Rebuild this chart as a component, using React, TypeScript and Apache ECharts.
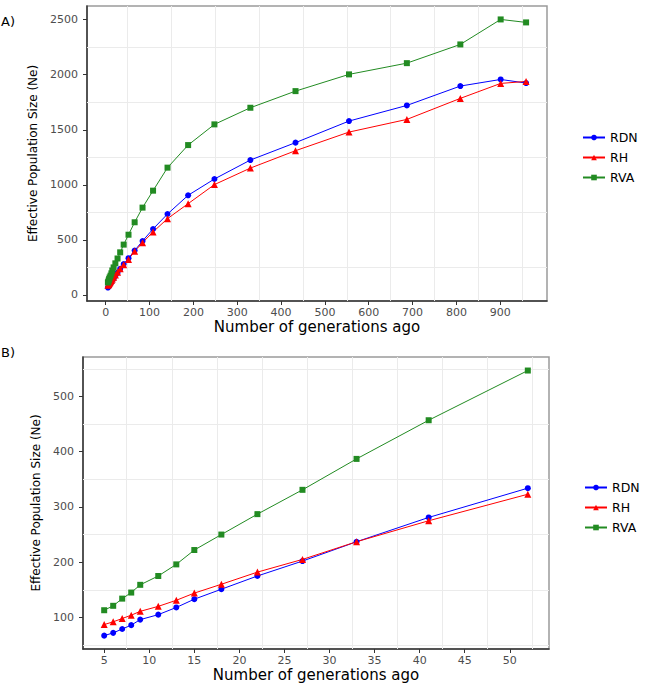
import React, { useEffect, useRef } from "react";
import * as echarts from "echarts";

// Generations (number of generations ago)
const generations = [5, 6, 7, 8, 9, 11, 13, 15, 18, 22, 27, 33, 41, 52, 66, 84, 108, 141, 188, 248, 330, 433, 555, 687, 809, 901, 959];
// Effective population size (Ne) per population
const rdnNe = [67, 72, 79, 86, 96, 105, 118, 133, 151, 175, 202, 237, 281, 334, 403, 490, 599, 735, 905, 1053, 1225, 1383, 1579, 1721, 1897, 1957, 1924];
const rhNe = [87, 92, 98, 104, 111, 120, 131, 144, 160, 182, 205, 237, 275, 323, 397, 475, 572, 693, 829, 1002, 1152, 1310, 1479, 1594, 1785, 1921, 1939];
const rvaNe = [113, 121, 134, 145, 159, 175, 196, 222, 250, 287, 331, 387, 457, 547, 660, 793, 947, 1156, 1361, 1549, 1700, 1851, 2003, 2105, 2275, 2502, 2475];

const seriesNames = ["RDN", "RH", "RVA"];
const panelBMaxGen = 52;

// Tick labels
const xTicksA = [0, 100, 200, 300, 400, 500, 600, 700, 800, 900];
const yTicksA = [0, 500, 1000, 1500, 2000, 2500];
const xTicksB = [5, 10, 15, 20, 25, 30, 35, 40, 45, 50];
const yTicksB = [100, 200, 300, 400, 500];
// Light grid lines (between ticks)
const xGridA = [50, 150, 250, 350, 450, 550, 650, 750, 850, 950];
const yGridA = [250, 750, 1250, 1750, 2250];
const xGridB = [7.5, 12.5, 17.5, 22.5, 27.5, 32.5, 37.5, 42.5, 47.5, 52.5];
const yGridB = [50, 150, 250, 350, 450, 550];

const FONT = "DejaVu Sans";

export default function App() {
  const ref = useRef<HTMLDivElement>(null);
  useEffect(() => {
    if (!ref.current) return;
    const chart = echarts.init(ref.current, undefined, { renderer: "svg" });

    const pair = (vals: number[], maxGen?: number) =>
      generations
        .map((g, i) => [g, vals[i]])
        .filter((p) => (maxGen === undefined ? true : p[0] <= maxGen));

    const colors = ["#0000FF", "#FF0000", "#228B22"];
    const symbols = ["circle", "triangle", "rect"];
    const sizes = [6, 7, 6];
    const allVals = [rdnNe, rhNe, rvaNe];

    const gridLines = (xs: number[], ys: number[]) => ({
      silent: true,
      z: 1,
      symbol: ["none", "none"],
      label: { show: false },
      lineStyle: { color: "#ebebeb", width: 1, type: "solid" },
      emphasis: { disabled: true },
      data: [...xs.map((v) => ({ xAxis: v })), ...ys.map((v) => ({ yAxis: v }))],
    });

    const makeSeries = (panel: number) =>
      seriesNames.map((name, k) => ({
        name,
        type: "line",
        xAxisIndex: panel,
        yAxisIndex: panel,
        data: pair(allVals[k], panel === 1 ? panelBMaxGen : undefined),
        symbol: symbols[k],
        symbolSize: sizes[k],
        showSymbol: true,
        lineStyle: { color: colors[k], width: 1 },
        itemStyle: { color: colors[k] },
        color: colors[k],
        emphasis: { disabled: true },
        markLine:
          k === 0
            ? panel === 0
              ? gridLines(xGridA, yGridA)
              : gridLines(xGridB, yGridB)
            : undefined,
      }));

    const fmt = (v: number) => String(v);

    const xAxisBase = (ticks: number[]) => ({
      type: "value",
      name: "Number of generations ago",
      nameLocation: "middle",
      nameGap: 18,
      nameTextStyle: { fontSize: 15, color: "#000", fontFamily: FONT },
      axisLine: { show: true, onZero: false, lineStyle: { color: "#333", width: 1.5 } },
      axisTick: { show: true, customValues: ticks, length: 4, lineStyle: { color: "#333", width: 1 } },
      axisLabel: { customValues: ticks, formatter: fmt, fontSize: 11, color: "#4d4d4d", margin: 6, fontFamily: FONT },
      splitLine: { show: false },
    });
    const yAxisBase = (ticks: number[], gap: number) => ({
      type: "value",
      name: "Effective Population Size (Ne)",
      nameLocation: "middle",
      nameGap: gap,
      nameTextStyle: { fontSize: 12, color: "#000", fontFamily: FONT },
      axisLine: { show: true, onZero: false, lineStyle: { color: "#333", width: 1.5 } },
      axisTick: { show: true, customValues: ticks, length: 4, lineStyle: { color: "#333", width: 1 } },
      axisLabel: { customValues: ticks, formatter: fmt, fontSize: 11, color: "#4d4d4d", margin: 9, fontFamily: FONT },
      splitLine: { show: false },
    });

    const legendBase = {
      data: seriesNames,
      orient: "vertical",
      itemWidth: 22,
      itemHeight: 7,
      itemGap: 7,
      selectedMode: false,
      textStyle: { fontSize: 12.5, color: "#000", fontFamily: FONT, lineHeight: 13 },
    };

    chart.setOption({
      animation: false,
      textStyle: { fontFamily: FONT },
      grid: [
        { left: 87, top: 6, width: 460, height: 295, show: true, borderColor: "#9a9a9a", borderWidth: 1.5, backgroundColor: "transparent" },
        { left: 83, top: 357, width: 466, height: 292, show: true, borderColor: "#9a9a9a", borderWidth: 1.5, backgroundColor: "transparent" },
      ],
      xAxis: [
        { ...xAxisBase(xTicksA), gridIndex: 0, min: -42.7, max: 1006.7 },
        { ...xAxisBase(xTicksB), gridIndex: 1, min: 2.65, max: 54.35 },
      ],
      yAxis: [
        { ...yAxisBase(yTicksA, 42), gridIndex: 0, min: -55, max: 2624 },
        { ...yAxisBase(yTicksB, 35), gridIndex: 1, min: 42.8, max: 571.5 },
      ],
      legend: [
        { ...legendBase, left: 577, top: 126 },
        { ...legendBase, left: 579, top: 476 },
      ],
      graphic: [
        { type: "text", left: 1, top: 15, style: { text: "A)", fontSize: 13, fill: "#000", fontFamily: FONT } },
        { type: "text", left: 1, top: 346, style: { text: "B)", fontSize: 13, fill: "#000", fontFamily: FONT } },
      ],
      series: [...makeSeries(0), ...makeSeries(1)],
    });
    return () => chart.dispose();
  }, []);
  return <div ref={ref} style={{ position: "absolute", left: 0, top: 0, width: 649, height: 688 }} />;
}
